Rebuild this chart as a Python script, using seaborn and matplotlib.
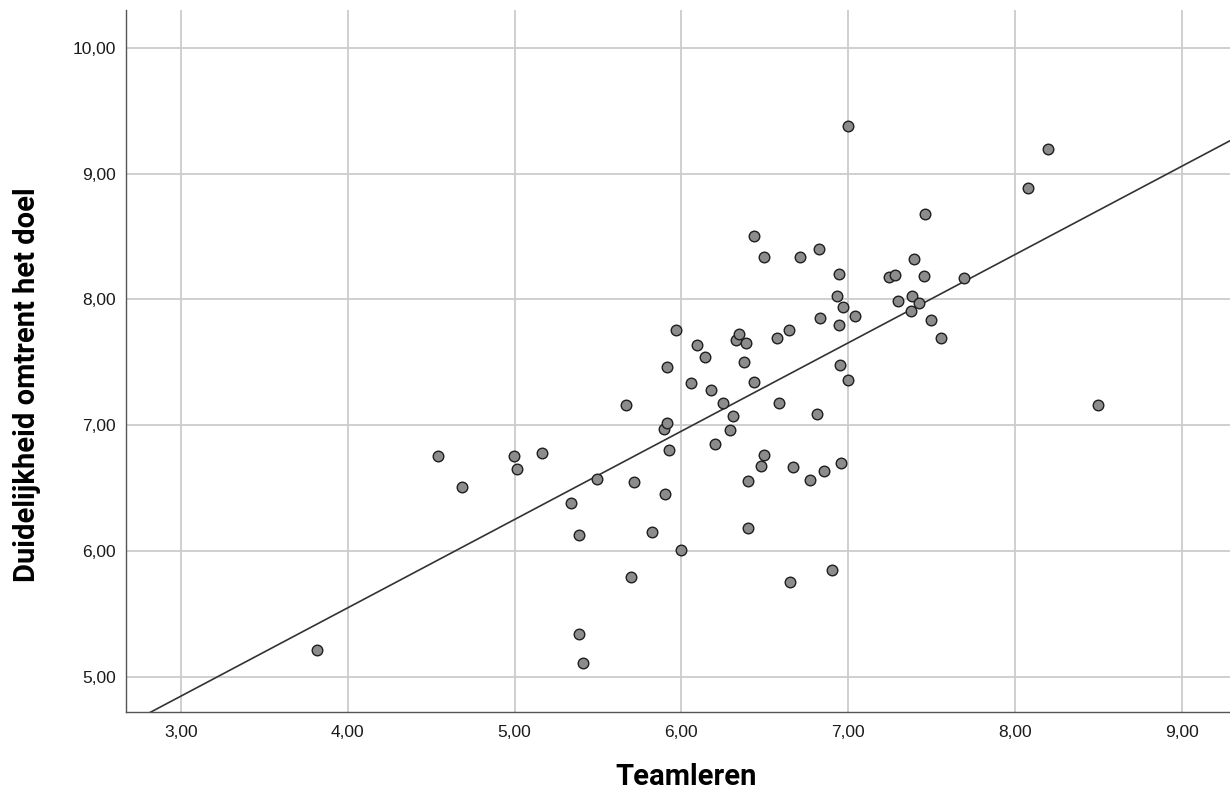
import matplotlib
matplotlib.use("Agg")
import matplotlib.pyplot as plt
from matplotlib.ticker import FuncFormatter, FixedLocator
import seaborn as sns
import pandas as pd

# Data
teamleren = [
    3.815, 4.541, 4.687, 4.997, 5.013, 5.167, 5.340, 5.386, 5.384, 5.410,
    5.497, 5.668, 5.698, 5.716, 5.822, 5.902, 5.896, 5.916, 5.912, 5.926,
    5.968, 6.000, 6.059, 6.094, 6.142, 6.181, 6.200, 6.249, 6.293, 6.311,
    6.327, 6.343, 6.375, 6.387, 6.397, 6.397, 6.435, 6.437, 6.477, 6.495,
    6.497, 6.571, 6.583, 6.643, 6.650, 6.667, 6.711, 6.769, 6.811, 6.825,
    6.833, 6.857, 6.903, 6.931, 6.943, 6.943, 6.950, 6.957, 6.967, 6.999,
    6.999, 7.039, 7.243, 7.280, 7.300, 7.375, 7.386, 7.395, 7.426, 7.455,
    7.459, 7.500, 7.560, 7.694, 8.078, 8.198, 8.498,
]
duidelijkheid = [
    5.210, 6.757, 6.508, 6.757, 6.651, 6.778, 6.383, 6.129, 5.342, 5.106,
    6.572, 7.157, 5.793, 6.548, 6.150, 6.455, 6.969, 7.016, 7.459, 6.800,
    7.758, 6.010, 7.332, 7.634, 7.546, 7.279, 6.850, 7.178, 6.963, 7.072,
    7.676, 7.724, 7.506, 7.657, 6.558, 6.184, 8.506, 7.342, 6.672, 8.333,
    6.762, 7.692, 7.175, 7.758, 5.757, 6.664, 8.333, 6.568, 7.085, 8.400,
    7.854, 6.635, 5.845, 8.030, 8.198, 7.800, 7.480, 6.696, 7.940, 7.360,
    9.380, 7.867, 8.174, 8.196, 7.990, 7.910, 8.023, 8.320, 7.970, 8.187,
    8.680, 7.840, 7.690, 8.169, 8.882, 9.197, 7.160,
]
x_ticks = [3, 4, 5, 6, 7, 8, 9]
y_ticks = [5, 6, 7, 8, 9, 10]
x_label = "Teamleren"
y_label = "Duidelijkheid omtrent het doel"

df = pd.DataFrame({x_label: teamleren, y_label: duidelijkheid})

sns.set_theme(style="white")
plt.rcParams["font.family"] = ["Liberation Sans", "DejaVu Sans"]

fig = plt.figure(figsize=(12.3, 7.9), dpi=100)
ax = fig.add_axes([0.1024, 0.0987, 0.8976, 0.8886])
ax.set_xlim(2.67, 9.29)
ax.set_ylim(4.72, 10.30)

ax.xaxis.set_major_locator(FixedLocator(x_ticks))
ax.yaxis.set_major_locator(FixedLocator(y_ticks))
ax.grid(True, color="#cccccc", linewidth=1.3, zorder=0)
ax.set_axisbelow(True)

sns.regplot(
    data=df, x=x_label, y=y_label, ax=ax, ci=None, truncate=False,
    scatter_kws=dict(s=58, facecolor="#8c8c8c", edgecolor="#1e1e1e",
                     linewidths=1.0, alpha=1, zorder=3),
    line_kws=dict(color="#333333", linewidth=1.2, zorder=2),
)

fmt = FuncFormatter(lambda v, p: f"{v:.2f}".replace(".", ","))
ax.xaxis.set_major_formatter(fmt)
ax.yaxis.set_major_formatter(fmt)
ax.tick_params(axis="x", length=0, pad=9, labelsize=12.5, labelcolor="#1a1a1a")
ax.tick_params(axis="y", length=0, pad=7, labelsize=12.5, labelcolor="#1a1a1a")

for s in ["top", "right"]:
    ax.spines[s].set_visible(False)
for s in ["left", "bottom"]:
    ax.spines[s].set_color("#555555")
    ax.spines[s].set_linewidth(1.0)

label_font = dict(family=["Roboto", "DejaVu Sans"],
                  weight="bold", size=21, color="black")
ax.set_xlabel(x_label, **label_font)
ax.set_ylabel(y_label, **label_font)
ax.xaxis.set_label_coords(0.507, -0.073)
ax.yaxis.set_label_coords(-0.077, 0.467)

fig.savefig("out.png", dpi=100)
